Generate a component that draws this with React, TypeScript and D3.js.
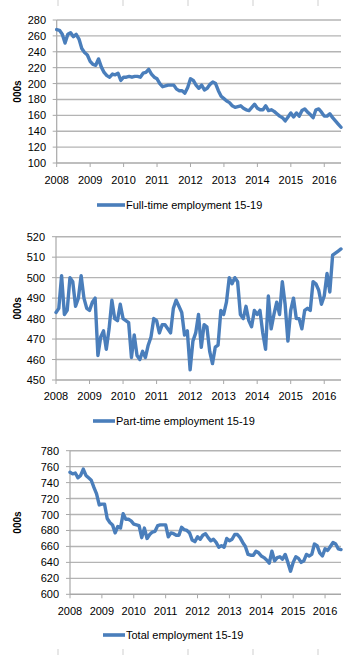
import React from 'react';
import * as d3 from 'd3';

const years = ['2008', '2009', '2010', '2011', '2012', '2013', '2014', '2015', '2016'];

const fullTime = [
  268, 267, 262, 251, 262, 264, 259, 262, 256, 244,
  239, 236, 228, 224, 223, 231, 221, 214, 210, 208,
  212, 211, 213, 204, 208, 208, 209, 208, 209, 209,
  208, 213, 214, 218, 212, 208, 206, 200, 196, 197,
  198, 198, 198, 193, 191, 191, 188, 195, 206, 204,
  198, 194, 198, 192, 194, 199, 202, 200, 191, 184,
  181, 178, 176, 172, 170, 171, 172, 169, 167, 166,
  170, 174, 169, 167, 167, 172, 166, 167, 165, 162,
  159, 157, 153, 158, 163, 158, 163, 159, 166, 168,
  164, 161, 157, 167, 168, 164, 159, 159, 162, 157,
  153, 149, 145,
];

const partTime = [
  483, 485, 501, 482, 484, 500, 498, 486, 490, 501,
  490, 485, 484, 488, 490, 462, 471, 474, 465, 475,
  489, 480, 479, 487, 480, 479, 478, 461, 472, 462,
  460, 464, 461, 467, 471, 480, 479, 473, 477, 477,
  475, 473, 485, 489, 486, 483, 472, 474, 455, 469,
  473, 482, 466, 477, 476, 464, 458, 466, 467, 484,
  482, 488, 500, 497, 500, 498, 482, 480, 486, 479,
  476, 484, 482, 484, 473, 465, 491, 475, 482, 488,
  482, 498, 487, 469, 484, 490, 480, 480, 475, 484,
  485, 484, 498, 497, 494, 487, 491, 502, 493, 511,
  512, 513, 514,
];

const total = [
  753, 751, 752, 746, 749, 757, 749, 746, 743, 734,
  726, 712, 713, 713, 695, 690, 687, 677, 685, 683,
  701, 694, 694, 692, 688, 687, 686, 671, 683, 670,
  675, 678, 679, 686, 687, 687, 687, 672, 677, 676,
  674, 674, 684, 681, 680, 677, 668, 666, 672, 669,
  674, 676, 671, 667, 669, 665, 659, 661, 659, 670,
  667, 669, 675, 675, 671, 665, 660, 650, 649, 649,
  654, 652, 648, 646, 643, 639, 654, 642, 646, 647,
  644, 650, 640, 629, 640, 647, 645, 640, 642, 650,
  648, 650, 663, 661, 652, 648, 657, 655, 660, 665,
  663, 657, 656,
];

const fullTimeTicks = [100, 120, 140, 160, 180, 200, 220, 240, 260, 280];
const partTimeTicks = [450, 460, 470, 480, 490, 500, 510, 520];
const totalTicks = [600, 620, 640, 660, 680, 700, 720, 740, 760, 780];

const legendFull = 'Full-time employment 15-19';
const legendPart = 'Part-time employment 15-19';
const legendTotal = 'Total employment 15-19';
const yTitle = '000s';

const LINE = '#4a7ebb';
const GRID = '#b4b4b4';
const AXIS = '#a8a8a8';
const FONT = '"Liberation Sans", Arial, sans-serif';

type PanelProps = {
  values: number[];
  ticks: number[];
  left: number;
  right: number;
  top: number;
  bottom: number;
  tickRight: number;
  titleX: number;
  yearY: number;
  legX0: number;
  legX1: number;
  legY: number;
  legend: string;
};

function Panel(p: PanelProps) {
  const x = d3.scaleLinear().domain([0, p.values.length - 1]).range([p.left, p.right]);
  const y = d3
    .scaleLinear()
    .domain([p.ticks[0], p.ticks[p.ticks.length - 1]])
    .range([p.bottom, p.top]);
  const line = d3
    .line<number>()
    .x((_, i) => x(i))
    .y((d) => y(d))
    .curve(d3.curveLinear);
  const mid = (p.top + p.bottom) / 2;
  return (
    <g>
      {p.ticks.map((t) => (
        <g key={t}>
          {t !== p.ticks[0] && (
            <line x1={p.left} x2={p.right} y1={y(t)} y2={y(t)} stroke={GRID} strokeWidth={1.4} />
          )}
          <line x1={p.left - 4} x2={p.left} y1={y(t)} y2={y(t)} stroke={AXIS} strokeWidth={1} />
          <text
            x={p.tickRight}
            y={y(t)}
            textAnchor="end"
            dominantBaseline="central"
            fontFamily={FONT}
            fontSize={11}
            fill="#000"
          >
            {t}
          </text>
        </g>
      ))}
      <line x1={p.left} x2={p.left} y1={p.top} y2={p.bottom} stroke={AXIS} strokeWidth={1.2} />
      <line x1={p.left} x2={p.right} y1={p.bottom} y2={p.bottom} stroke={AXIS} strokeWidth={1.4} />
      {years.map((yr, i) => (
        <g key={yr}>
          <line x1={x(i * 12)} x2={x(i * 12)} y1={p.bottom} y2={p.bottom + 4} stroke={AXIS} strokeWidth={1} />
          <text
            x={x(i * 12)}
            y={p.yearY}
            textAnchor="middle"
            dominantBaseline="central"
            fontFamily={FONT}
            fontSize={11}
            fill="#000"
          >
            {yr}
          </text>
        </g>
      ))}
      <text
        transform={`translate(${p.titleX},${mid}) rotate(-90)`}
        textAnchor="middle"
        dominantBaseline="central"
        fontFamily={FONT}
        fontSize={10}
        fontWeight="bold"
        fill="#000"
      >
        {yTitle}
      </text>
      <path d={line(p.values) || ''} fill="none" stroke={LINE} strokeWidth={3.4} strokeLinejoin="round" strokeLinecap="round" />
      <line x1={p.legX0} x2={p.legX1} y1={p.legY} y2={p.legY} stroke={LINE} strokeWidth={3.6} />
      <text
        x={p.legX1 + 1}
        y={p.legY}
        dominantBaseline="central"
        fontFamily={FONT}
        fontSize={11}
        fill="#000"
      >
        {p.legend}
      </text>
    </g>
  );
}

const cropMarks = [58, 123, 188, 253, 318];

export default function App() {
  return (
    <svg
      width={352}
      height={655}
      viewBox="0 0 352 655"
      style={{ position: 'absolute', left: 0, top: 0, background: '#fff' }}
    >
      <rect x={0} y={0} width={352} height={655} fill="#fff" />
      {cropMarks.map((cx) => (
        <g key={cx}>
          <line x1={cx} x2={cx} y1={0} y2={6} stroke="#cfcfcf" strokeWidth={1} />
          <line x1={cx} x2={cx} y1={649} y2={655} stroke="#cfcfcf" strokeWidth={1} />
        </g>
      ))}
      <Panel
        values={fullTime}
        ticks={fullTimeTicks}
        left={56.7}
        right={341}
        top={20}
        bottom={163}
        tickRight={46}
        titleX={17}
        yearY={180}
        legX0={97}
        legX1={125}
        legY={205}
        legend={legendFull}
      />
      <Panel
        values={partTime}
        ticks={partTimeTicks}
        left={56}
        right={341}
        top={236.7}
        bottom={380}
        tickRight={45}
        titleX={17}
        yearY={396}
        legX0={93}
        legX1={115}
        legY={421}
        legend={legendPart}
      />
      <Panel
        values={total}
        ticks={totalTicks}
        left={70}
        right={341}
        top={450.7}
        bottom={594.3}
        tickRight={59}
        titleX={17}
        yearY={611}
        legX0={103}
        legX1={125}
        legY={635}
        legend={legendTotal}
      />
    </svg>
  );
}
